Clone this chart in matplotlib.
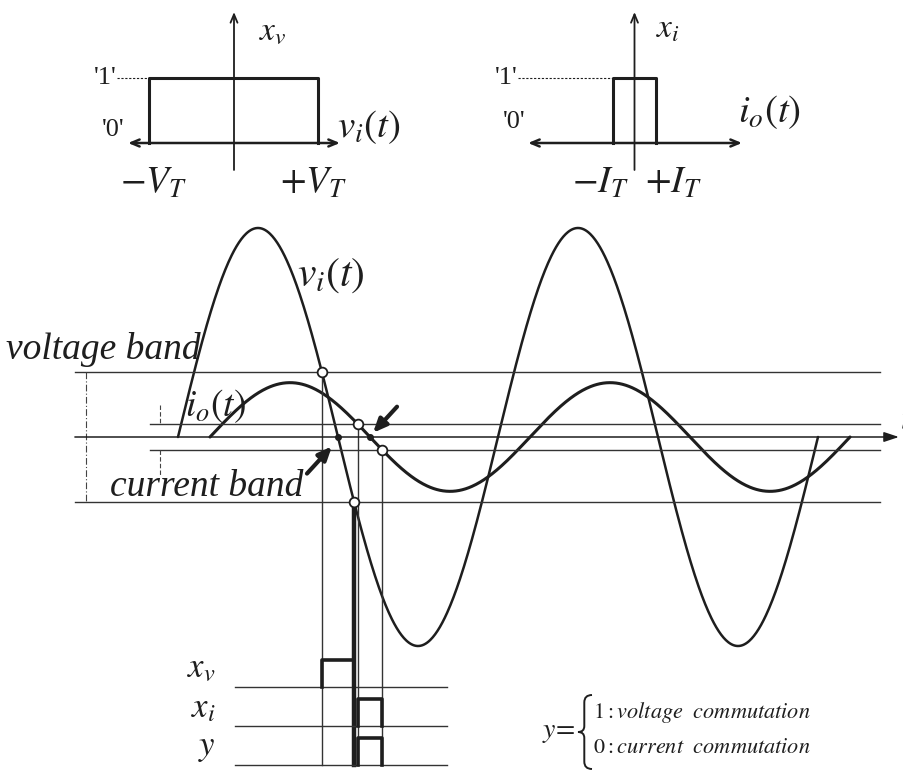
import numpy as np
import matplotlib.pyplot as plt
from matplotlib.path import Path
from matplotlib.patches import PathPatch

plt.rcParams['mathtext.fontset'] = 'stix'
plt.rcParams['font.family'] = ['Liberation Serif', 'DejaVu Serif']

W, H = 904, 781
INK = '#1e1e1e'

# waveforms: angle in degrees, amplitude relative to the voltage peak
v_amp = 1.0
i_amp = 0.26
i_lag = 36.0
v_span = [0.0, 720.0]
i_span = [36.0, 756.0]

# hysteresis bands
V_T = 0.31
I_T = 0.062

# comparator characteristics (inset plots)
levels = [0, 1]
level_labels = ["'1'", "'0'"]
vt_edges = [-1, 1]   # in units of V_T
it_edges = [-1, 1]   # in units of I_T

# logic rows under the waveforms
row_names = [r'$x_v$', r'$x_i$', r'$y$']
row_base = [-1.196, -1.383, -1.569]
pulse_h = 0.13


def px_axes(left, top, right, bottom):
    return fig.add_axes([left / W, 1 - bottom / H, (right - left) / W, (bottom - top) / H])


fig = plt.figure(figsize=(W / 100, H / 100), dpi=100)

# ---------------- main waveform panel ----------------
k = 320 / 360.0
ax = fig.add_axes([0, 0, 1, 1])
ax.set_xlim(-178 / k, (W - 178) / k)
ax.set_ylim(-(H - 437) / 209, 437 / 209)
ax.axis('off')

tv = np.linspace(v_span[0], v_span[1], 800)
ti = np.linspace(i_span[0], i_span[1], 800)
v = v_amp * np.sin(np.radians(tv))
i = i_amp * np.sin(np.radians(ti - i_lag))
ax.plot(tv, v, color=INK, lw=1.8, solid_capstyle='round')
ax.plot(ti, i, color=INK, lw=2.2, solid_capstyle='round')

# band lines and time axis
for yb in [V_T, -V_T]:
    ax.plot([-116, 790], [yb, yb], color='#333333', lw=1.0)
for yb in [I_T, -I_T]:
    ax.plot([-31.5, 790], [yb, yb], color='#333333', lw=1.0)
ax.annotate('', xy=(811, 0), xytext=(-116, 0),
            arrowprops=dict(arrowstyle='-|>,head_length=0.9,head_width=0.3',
                            lw=1.1, color=INK, shrinkA=0, shrinkB=0))
ax.text(812, 0.08, r'$t$', fontsize=24, ha='left', va='center', color=INK)

# band width markers
ax.plot([-103.5, -103.5], [V_T, -V_T], color='#444444', lw=0.8, ls=(0, (6, 2, 1, 2)))
ax.plot([-20.25, -20.25], [0.153, I_T], color='#444444', lw=0.8, ls=(0, (4, 2)))
ax.plot([-20.25, -20.25], [-I_T, -0.18], color='#444444', lw=0.8, ls=(0, (4, 2)))

# crossing instants
tv_hi = 180 - np.degrees(np.arcsin(V_T / v_amp))
tv_lo = 180 + np.degrees(np.arcsin(V_T / v_amp))
ti_hi = i_lag + 180 - np.degrees(np.arcsin(I_T / i_amp))
ti_lo = i_lag + 180 + np.degrees(np.arcsin(I_T / i_amp))
bottom = row_base[-1]

ax.plot([tv_hi, tv_hi], [V_T, bottom], color='#333333', lw=1.0)
ax.plot([ti_hi, ti_hi], [I_T, bottom], color='#333333', lw=1.0)
ax.plot([ti_lo, ti_lo], [-I_T, bottom], color='#333333', lw=1.0)
ax.plot([tv_lo, tv_lo], [-V_T, bottom], color=INK, lw=3.2)

ax.plot([tv_hi, tv_lo, ti_hi, ti_lo], [V_T, -V_T, I_T, -I_T], 'o', ms=7,
        mfc='white', mec=INK, mew=1.3, zorder=5)
ax.plot([180, 180 + i_lag], [0, 0], 'o', ms=4, color=INK, zorder=5)

# pointers to the zero crossings
ax.annotate('', xy=(219.4, 0.02), xytext=(246.4, 0.145),
            arrowprops=dict(arrowstyle='-|>,head_length=0.8,head_width=0.35',
                            lw=3, color=INK, shrinkA=0, shrinkB=0))
ax.annotate('', xy=(173.2, -0.045), xytext=(145.1, -0.175),
            arrowprops=dict(arrowstyle='-|>,head_length=0.8,head_width=0.35',
                            lw=3, color=INK, shrinkA=0, shrinkB=0))

# labels
ax.text(-84, 0.42, 'voltage band', fontsize=27, style='italic', ha='center',
        va='center', color=INK)
ax.text(32, -0.24, 'current band', fontsize=27, style='italic', ha='center',
        va='center', color=INK)
ax.text(172, 0.77, r'$v_i(t)$', fontsize=30, ha='center', va='center', color=INK)
ax.text(42, 0.15, r'$i_o(t)$', fontsize=27, ha='center', va='center', color=INK)

# logic rows
for name, b in zip(row_names, row_base):
    ax.plot([64, 302.6], [b, b], color='#333333', lw=1.0)
    ax.text(42, b + 0.085, name, fontsize=25, ha='right', va='center', color=INK)

pulses = [(tv_hi, tv_lo), (ti_hi, ti_lo), (ti_hi, ti_lo)]
for (x0, x1), b in zip(pulses, row_base):
    ax.plot([x0, x0, x1, x1], [b, b + pulse_h, b + pulse_h, b], color=INK, lw=2.6)

# definition of y
ax.text(447, -1.412, r'$y\!=$', fontsize=20, ha='right', va='center', color=INK)
ax.text(467, -1.316, r'$1{:}\mathit{voltage\ \ commutation}$', fontsize=16,
        ha='left', va='center', color=INK)
ax.text(467, -1.49, r'$0{:}\mathit{current\ \ commutation}$', fontsize=16,
        ha='left', va='center', color=INK)

# curly brace drawn as a path in its own small box
axb = px_axes(578, 695, 592, 769)
axb.set_xlim(0, 1)
axb.set_ylim(0, 1)
axb.axis('off')
brace = Path([(1.0, 1.0), (0.45, 1.0), (0.45, 0.9), (0.45, 0.58),
              (0.45, 0.5), (0.0, 0.5), (0.45, 0.5), (0.45, 0.42),
              (0.45, 0.1), (0.45, 0.0), (1.0, 0.0)],
             [Path.MOVETO, Path.CURVE3, Path.CURVE3, Path.LINETO,
              Path.CURVE3, Path.CURVE3, Path.CURVE3, Path.CURVE3,
              Path.LINETO, Path.CURVE3, Path.CURVE3])
axb.add_patch(PathPatch(brace, fill=False, lw=1.4, color=INK, clip_on=False))


# ---------------- comparator insets ----------------
def comparator(axi, edges, x_arrow, label_x, label_y, out_label, in_label, in_pos,
               edge_labels, dotted_from, one_x, zero_x, zero_y):
    axi.axis('off')
    axi.annotate('', xy=(x_arrow[1], 0), xytext=(x_arrow[0], 0),
                 arrowprops=dict(arrowstyle='<->,head_length=0.6,head_width=0.25',
                                 lw=1.8, color=INK, shrinkA=0, shrinkB=0))
    axi.annotate('', xy=(0, 2.015), xytext=(0, -0.415),
                 arrowprops=dict(arrowstyle='->,head_length=0.6,head_width=0.25',
                                 lw=1.3, color=INK, shrinkA=0, shrinkB=0))
    axi.plot([edges[0], edges[0], edges[1], edges[1]],
             [levels[0], levels[1], levels[1], levels[0]], color=INK, lw=2.2)
    axi.plot([dotted_from, edges[0]], [levels[1], levels[1]], color=INK, lw=0.8,
             ls=(0, (2, 1.5)))
    axi.text(one_x, levels[1], level_labels[0], fontsize=19, ha='right',
             va='center', color=INK)
    axi.text(zero_x, zero_y, level_labels[1], fontsize=19, ha='right',
             va='center', color=INK)
    axi.text(label_x, label_y, out_label, fontsize=24, ha='left', va='center',
             color=INK)
    axi.text(in_pos[0], in_pos[1], in_label, fontsize=28, ha='center',
             va='center', color=INK)
    for (xl, txt) in edge_labels:
        axi.text(xl, -0.62, txt, fontsize=27, ha='center', va='center', color=INK)


axv = px_axes(100, 0, 420, 210)
axv.set_xlim(-134 / 84.5, 186 / 84.5)
axv.set_ylim(-67 / 65, 143 / 65)
comparator(axv, vt_edges, (-1.254, 1.254), 0.3, 1.72, r'$x_v$', r'$v_i(t)$',
           (1.6, 0.25), [(-0.95, r'$-V_T$'), (0.94, r'$+V_T$')],
           -1.38, -1.39, -1.29, 0.2)

axi = px_axes(480, 0, 830, 210)
axi.set_xlim((480 - 634.5) / 21.5, (830 - 634.5) / 21.5)
axi.set_ylim(-67 / 65, 143 / 65)
comparator(axi, it_edges, (-4.95, 5.0), 1.0, 1.75, r'$x_i$', r'$i_o(t)$',
           (6.3, 0.48), [(-1.6, r'$-I_T$'), (1.8, r'$+I_T$')],
           -5.42, -5.45, -5.09, 0.32)

fig.savefig('out.png', dpi=100, facecolor='white')
